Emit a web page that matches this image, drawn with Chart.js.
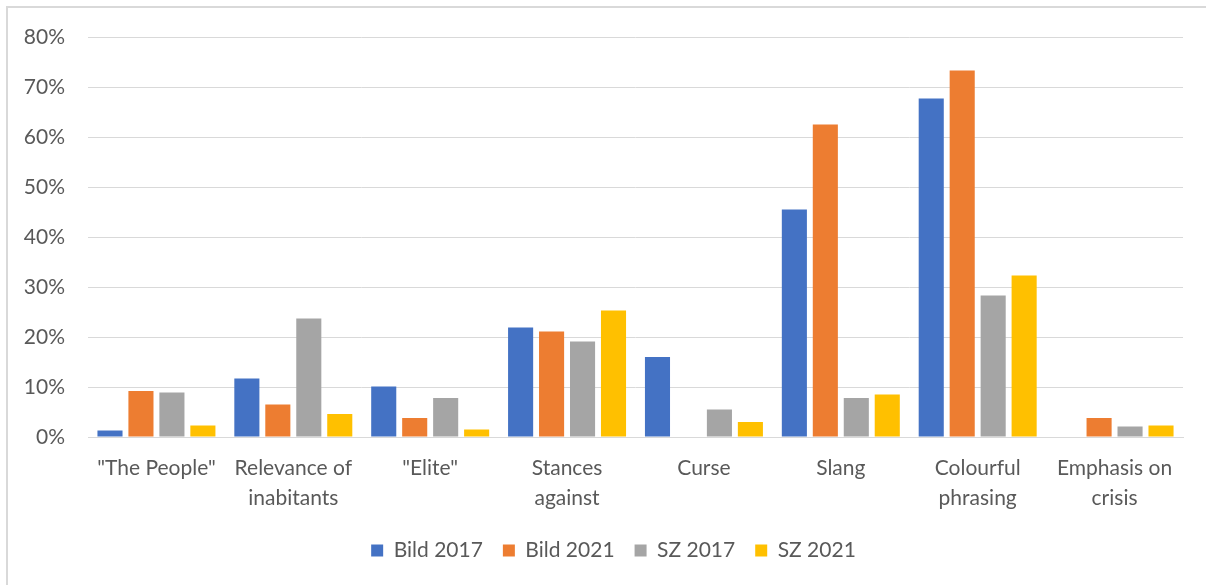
<!DOCTYPE html>
<html>
<head>
<meta charset="utf-8">
<script src="https://cdn.jsdelivr.net/npm/chart.js@4"></script>
<style>
  html, body { margin: 0; padding: 0; background: #fff; }
  #wrap { position: relative; width: 1206px; height: 585px; overflow: hidden; }
  #frame { position: absolute; left: 6px; top: 6px; width: 1200px; height: 579px;
           border-top: 2px solid #d9d9d9; border-left: 2px solid #d9d9d9; box-sizing: border-box; }
  canvas { position: absolute; left: 0; top: 0; }
</style>
</head>
<body>
<div id="wrap">
  <div id="frame"></div>
  <canvas id="chart" width="1206" height="585"></canvas>
</div>
<script>
  const categories = [
      ['"The People"'],
      ['Relevance of', 'inabitants'],
      ['"Elite"'],
      ['Stances', 'against'],
      ['Curse'],
      ['Slang'],
      ['Colourful', 'phrasing'],
      ['Emphasis on', 'crisis']
  ];
  const bild2017 = [1.3, 11.7, 10.1, 21.9, 16.0, 45.5, 67.7, 0];
  const bild2021 = [9.2, 6.5, 3.8, 21.1, 0, 62.5, 73.3, 3.8];
  const sz2017 = [8.9, 23.7, 7.8, 19.1, 5.5, 7.8, 28.3, 2.1];
  const sz2021 = [2.3, 4.6, 1.5, 25.3, 3.0, 8.5, 32.3, 2.3];
  const yTicks = [0, 10, 20, 30, 40, 50, 60, 70, 80];

  const font = { family: 'Lato, "Open Sans", sans-serif', size: 21 };
  const textColor = '#595959';

  const makeSet = (label, data, color) => ({
      label: label,
      data: data,
      backgroundColor: color,
      borderWidth: 0,
      categoryPercentage: 0.905,
      barPercentage: 0.81
  });

  // legend in the original sits a bit right of the canvas centre
  const legendShift = {
      id: 'legendShift',
      afterLayout(chart) {
          chart.legend.left += 22;
          chart.legend.right += 22;
      }
  };

  const ctx = document.getElementById('chart').getContext('2d');
  new Chart(ctx, {
      type: 'bar',
      data: {
          labels: categories,
          datasets: [
              makeSet('Bild 2017', bild2017, '#4472C4'),
              makeSet('Bild 2021', bild2021, '#ED7D31'),
              makeSet('SZ 2017', sz2017, '#A5A5A5'),
              makeSet('SZ 2021', sz2021, '#FFC000')
          ]
      },
      plugins: [legendShift],
      options: {
          responsive: false,
          animation: false,
          devicePixelRatio: 1,
          layout: { padding: { left: 0, right: 23, top: 37, bottom: 14 } },
          plugins: {
              legend: {
                  position: 'bottom',
                  labels: {
                      font: font,
                      color: textColor,
                      boxWidth: 12,
                      boxHeight: 12,
                      padding: 20
                  }
              },
              tooltip: { enabled: false }
          },
          scales: {
              x: {
                  afterFit: (scale) => { scale.height = 83; },
                  grid: { display: false, drawTicks: false },
                  border: { display: true, color: '#d9d9d9', width: 1 },
                  ticks: {
                      font: { ...font, lineHeight: 1.43 },
                      color: textColor,
                      padding: 16,
                      maxRotation: 0,
                      autoSkip: false
                  }
              },
              y: {
                  min: 0,
                  max: 80,
                  afterFit: (scale) => { scale.width = 88; },
                  afterBuildTicks: (scale) => { scale.ticks = yTicks.map(v => ({ value: v })); },
                  grid: { color: '#d9d9d9', lineWidth: 1, drawTicks: false },
                  border: { display: false },
                  ticks: {
                      font: font,
                      color: textColor,
                      padding: 23,
                      callback: (v) => v + '%'
                  }
              }
          }
      }
  });
</script>
</body>
</html>
